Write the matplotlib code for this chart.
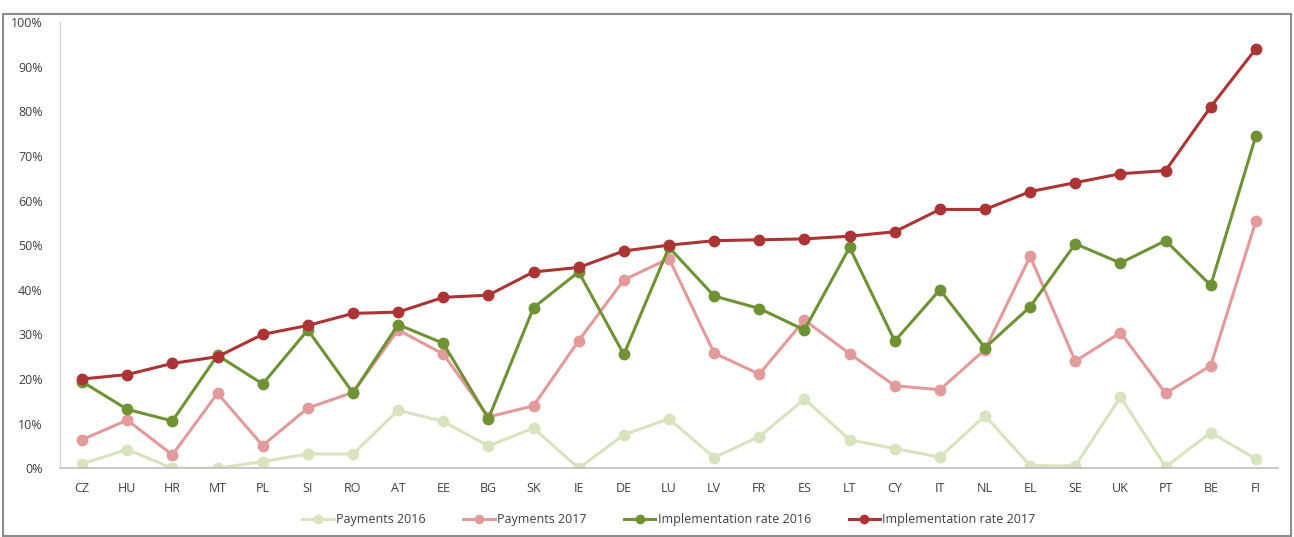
import matplotlib.pyplot as plt
from matplotlib.ticker import PercentFormatter

countries = ["CZ", "HU", "HR", "MT", "PL", "SI", "RO", "AT", "EE", "BG", "SK", "IE", "DE", "LU",
             "LV", "FR", "ES", "LT", "CY", "IT", "NL", "EL", "SE", "UK", "PT", "BE", "FI"]

payments_2016 = [1.0, 4.2, 0.0, 0.0, 1.5, 3.2, 3.2, 13.0, 10.5, 5.0, 9.0, 0.0, 7.5, 11.1,
                 2.4, 7.1, 15.5, 6.4, 4.4, 2.5, 11.8, 0.6, 0.5, 16.0, 0.3, 8.0, 2.1]
payments_2017 = [6.4, 10.8, 3.0, 16.8, 5.1, 13.5, 17.0, 31.0, 25.6, 11.5, 14.0, 28.6, 42.2, 47.0,
                 25.8, 21.1, 33.2, 25.7, 18.5, 17.6, 26.6, 47.5, 24.0, 30.4, 16.8, 23.0, 55.4]
impl_2016 = [19.4, 13.2, 10.6, 25.3, 18.9, 31.0, 16.9, 32.2, 28.0, 11.1, 36.0, 44.0, 25.5, 49.5,
             38.6, 35.8, 31.0, 49.5, 28.5, 40.0, 27.0, 36.2, 50.3, 46.0, 51.0, 41.0, 74.5]
impl_2017 = [20.0, 21.0, 23.5, 25.0, 30.0, 32.0, 34.7, 35.0, 38.3, 38.8, 44.0, 45.0, 48.7, 50.0,
             51.0, 51.2, 51.4, 52.0, 53.0, 58.0, 58.0, 62.0, 64.0, 66.0, 66.7, 81.0, 94.0]

series = [
    ("Payments 2016", payments_2016, "#d7e4bd"),
    ("Payments 2017", payments_2017, "#e39a9a"),
    ("Implementation rate 2016", impl_2016, "#6f9234"),
    ("Implementation rate 2017", impl_2017, "#ac3434"),
]

plt.rcParams['font.family'] = ['Open Sans', 'DejaVu Sans']

fig = plt.figure(figsize=(12.94, 5.37), dpi=100)
ax = fig.add_axes([0.046, 0.128, 0.942, 0.831])

x = range(len(countries))
for name, vals, col in series:
    ax.plot(x, vals, color=col, linewidth=2.2, marker='o', markersize=7.5, label=name)

ax.set_xlim(-0.5, len(countries) - 0.5)
ax.set_ylim(0, 100)
ax.set_yticks(range(0, 101, 10))
ax.yaxis.set_major_formatter(PercentFormatter(decimals=0))
ax.set_xticks(list(x))
ax.set_xticklabels(countries)
ax.tick_params(axis='both', length=0, labelsize=9, colors='#404040')
ax.tick_params(axis='x', pad=10)
ax.tick_params(axis='y', pad=12)

for s in ['top', 'right']:
    ax.spines[s].set_visible(False)
ax.spines['left'].set_color('#d0d0d0')
ax.spines['bottom'].set_color('#bfbfbf')
ax.spines['bottom'].set_linewidth(1.2)

ax.legend(loc='upper center', bbox_to_anchor=(0.5, -0.075), ncol=4, frameon=False,
          fontsize=9, handlelength=2.5, handletextpad=0.2, columnspacing=3.0,
          markerscale=0.8, labelcolor='#404040')

# outer frame of the chart area
fig.patches.append(plt.Rectangle((0.002, 0.002), 0.996, 0.972, transform=fig.transFigure,
                                 fill=False, edgecolor='#8c8c8c', linewidth=1.5))

fig.savefig('out.png', dpi=100)
